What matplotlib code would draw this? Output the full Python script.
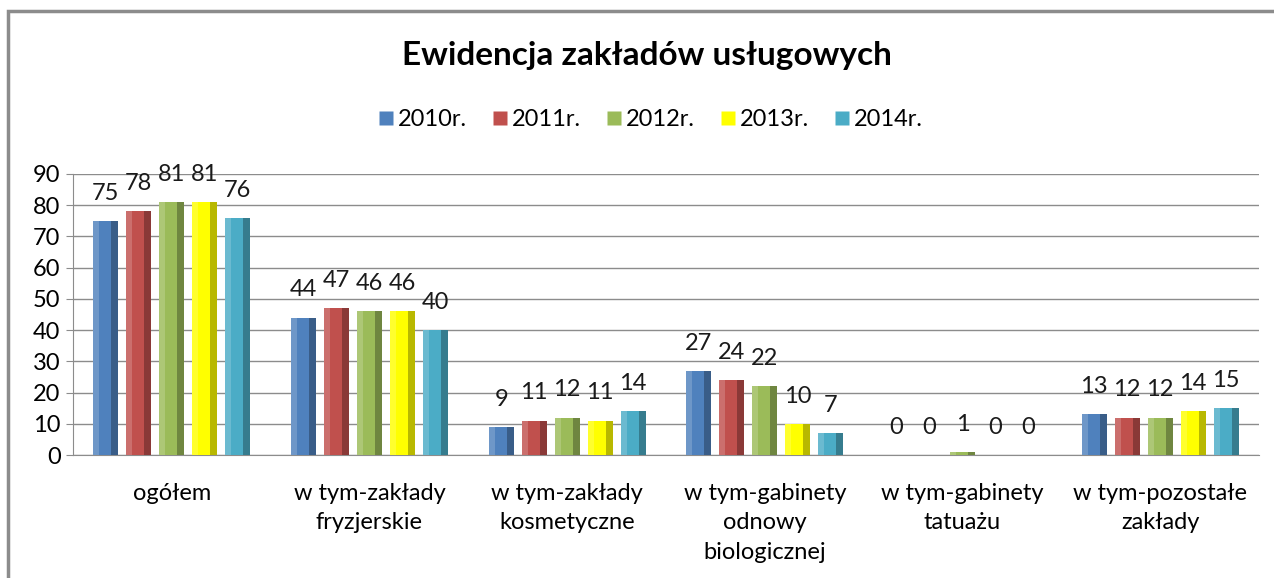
import numpy as np
import matplotlib.pyplot as plt
from matplotlib.patches import Rectangle
from matplotlib.lines import Line2D

plt.rcParams['font.family'] = ['Lato', 'DejaVu Sans']

# data
categories = ["ogółem", "w tym-zakłady\nfryzjerskie", "w tym-zakłady\nkosmetyczne",
              "w tym-gabinety\nodnowy\nbiologicznej", "w tym-gabinety\ntatuażu",
              "w tym-pozostałe\nzakłady"]
years = ["2010r.", "2011r.", "2012r.", "2013r.", "2014r."]
v2010 = [75, 44, 9, 27, 0, 13]
v2011 = [78, 47, 11, 24, 0, 12]
v2012 = [81, 46, 12, 22, 1, 12]
v2013 = [81, 46, 11, 10, 0, 14]
v2014 = [76, 40, 14, 7, 0, 15]
series = [v2010, v2011, v2012, v2013, v2014]
colors = ['#4F81BD', '#C0504D', '#9BBB59', '#FFFF00', '#4BACC6']

fig = plt.figure(figsize=(12.74, 5.78), dpi=100)
ax = fig.add_axes([73/1274, 1-455/578, (1259-73)/1274, (455-174)/578])

# outer frame of the chart
fig.patches.append(Rectangle((8/1274, -0.1), 1.2, 1-11/578+0.1, transform=fig.transFigure,
                             fill=False, edgecolor='#8c8c8c', linewidth=2.5, zorder=0))

x = np.arange(len(categories))
step = 0.167
w = 0.126
for i, (vals, c) in enumerate(zip(series, colors)):
    xs = x + (i - 2) * step
    ax.bar(xs, vals, w, color=c, edgecolor='none', zorder=3)
    # simple bevel shading
    ax.bar(xs + w*0.36, vals, w*0.28, color='black', alpha=0.28, edgecolor='none', zorder=4)
    ax.bar(xs - w*0.38, vals, w*0.24, color='white', alpha=0.18, edgecolor='none', zorder=4)
    for xx, v in zip(xs, vals):
        ax.text(xx, v + 5.5, str(v), ha='center', va='bottom', fontsize=17, color='#1a1a1a', zorder=5)

ax.set_xlim(-0.5, len(categories) - 0.5)
ax.set_ylim(0, 90)
ax.set_yticks(np.arange(0, 91, 10))
ax.set_xticks(x)
ax.set_xticklabels(categories, fontsize=17, linespacing=1.5)
ax.tick_params(axis='x', length=0, pad=20)
ax.tick_params(axis='y', labelsize=17, length=5, color='#8c8c8c', pad=4)
ax.grid(axis='y', color='#8c8c8c', linewidth=1, zorder=0)
for s in ['top', 'right']:
    ax.spines[s].set_visible(False)
for s in ['left', 'bottom']:
    ax.spines[s].set_color('#8c8c8c')

fig.text(0.508, 1-55/578, "Ewidencja zakładów usługowych", ha='center', va='center',
         fontsize=24, fontweight='bold')

handles = [Line2D([], [], marker='s', linestyle='none', markersize=10,
                  markerfacecolor=c, markeredgecolor='none') for c in colors]
fig.legend(handles, years, loc='center', bbox_to_anchor=(0.51, 1-120/578), ncol=5,
           frameon=False, fontsize=17, handletextpad=0.1, columnspacing=1.0, handlelength=0.8)

fig.savefig("out.png")
